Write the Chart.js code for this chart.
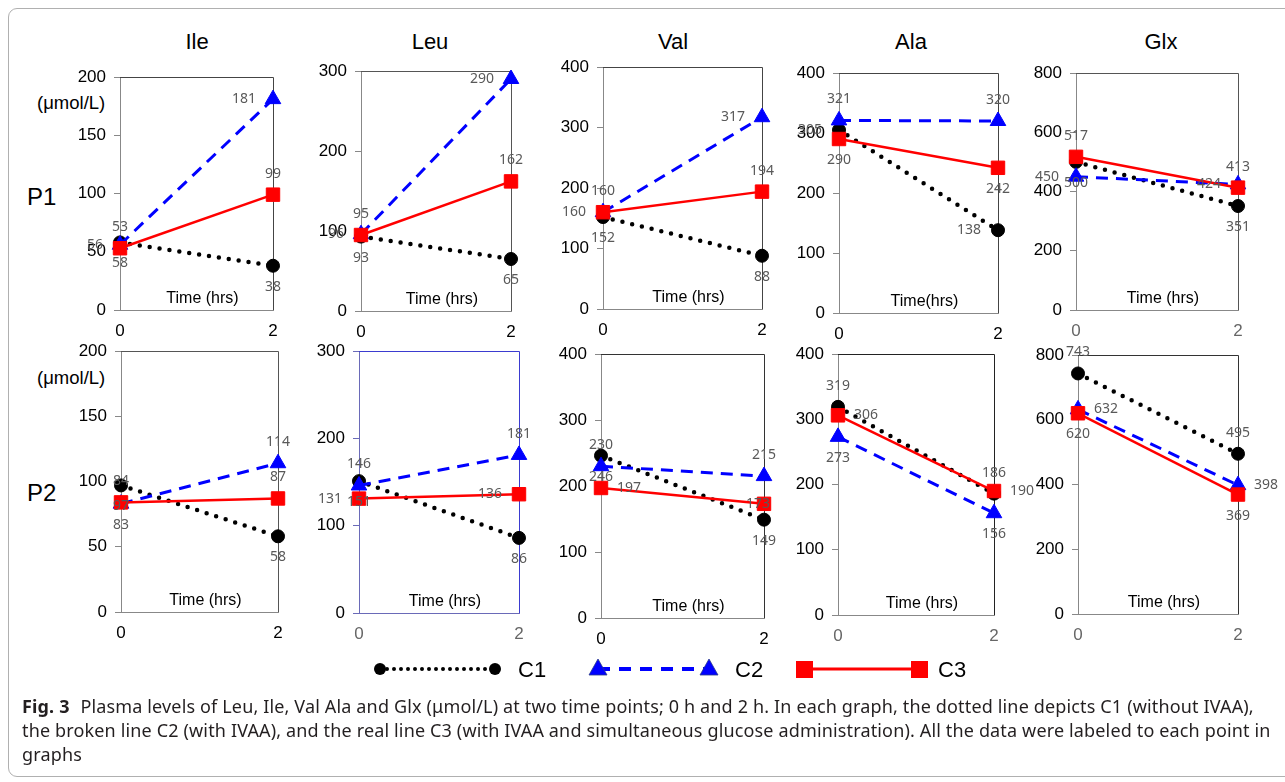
<!DOCTYPE html>
<html>
<head>
<meta charset="utf-8">
<script src="https://cdn.jsdelivr.net/npm/chart.js"></script>
<style>
  body { margin: 0; background: #fff; width: 1285px; height: 782px; overflow: hidden; position: relative; }
  .frame { position: absolute; left: 8px; top: 8px; width: 1300px; height: 767px; border: 1px solid #b0b0b0; border-radius: 9px; }
  canvas { position: absolute; }
  .txt { position: absolute; font-family: "Liberation Sans", Arial, sans-serif; color: #000; white-space: nowrap; }
  .title { font-size: 22px; transform: translate(-50%, -50%); }
  .row { font-size: 24px; transform: translateY(-50%); }
  .unit { font-size: 18.5px; transform: translateY(-50%); }
  .caption { position: absolute; left: 22px; top: 694px; font-family: "Noto Sans", sans-serif; font-size: 18px; line-height: 24px; color: #231f20; white-space: nowrap; letter-spacing: 0.15px; }
  .caption b { font-weight: 700; margin-right: 6px; }
  svg { position: absolute; left: 0; top: 0; }
</style>
</head>
<body>
<div class="frame"></div>

<script>
// amino acids (columns) and the two time points
const panelNames = ['Ile', 'Leu', 'Val', 'Ala', 'Glx'];
const timePoints = ['0', '2'];
const yMax = [200, 300, 400, 400, 800];
const yStep = [50, 100, 100, 100, 200];

// patient P1: [0 h, 2 h] for each amino acid
const c1P1 = [[58, 38], [93, 65], [152, 88], [305, 138], [500, 351]];
const c2P1 = [[56, 181], [96, 290], [160, 317], [321, 320], [450, 424]];
const c3P1 = [[53, 99], [95, 162], [160, 194], [290, 242], [517, 413]];

// patient P2
const c1P2 = [[97, 58], [151, 86], [246, 149], [319, 186], [743, 495]];
const c2P2 = [[83, 114], [146, 181], [230, 215], [273, 156], [632, 398]];
const c3P2 = [[84, 87], [131, 136], [197, 173], [306, 190], [620, 369]];

// plot boxes on the page: left, top, right, bottom
const boxesP1 = [[120, 77, 273, 310], [361, 71, 511, 311], [603, 67, 762, 309], [839, 73, 998, 313], [1076, 73, 1238, 310]];
const boxesP2 = [[121, 351, 278, 612], [359, 351, 519, 613], [601, 354, 764, 618], [838, 354, 994, 615], [1078, 355, 1238, 614]];
const titleX = [197, 430, 673, 911, 1161];

// where each value label sits: a=above b=below l=left r=right o=over
const lblP1 = [
  [['b', 'b'], ['l', 'l'], ['a', 'a']],
  [['b', 'b'], ['l', 'l'], ['a', 'a']],
  [['b', 'b'], ['l', 'l'], ['a', 'a']],
  [['l', 'l'], ['a', 'a'], ['b', 'b']],
  [['b', 'b'], ['l', 'l'], ['a', 'a']]
];
const lblP2 = [
  [['b', 'b'], ['b', 'a'], ['a', 'a']],
  [['b', 'b'], ['a', 'a'], ['l', 'l']],
  [['b', 'b'], ['a', 'a'], ['r', 'o']],
  [['a', 'a'], ['b', 'b'], ['r', 'r']],
  [['a', 'a'], ['r', 'r'], ['b', 'b']]
];

const seriesStyle = [
  { label: 'C1', color: '#000000', shape: 'circle', radius: 6.5, dash: [0, 10], width: 4.5, cap: 'round', order: 2 },
  { label: 'C2', color: '#0000ff', shape: 'triangle', radius: 9, dash: [12, 8], width: 3, cap: 'butt', order: 1 },
  { label: 'C3', color: '#ff0000', shape: 'rect', radius: 9.5, dash: [], width: 2.5, cap: 'butt', order: 0 }
];

const rows = [
  { name: 'P1', series: [c1P1, c2P1, c3P1], boxes: boxesP1, lbl: lblP1, rowY: 197, unitY: 103,
    xColor: ['#000', '#000', '#000', '#000', '#666'], boxColor: ['#444', '#555', '#444', '#444', '#555'],
    time: ['Time (hrs)', 'Time (hrs)', 'Time (hrs)', 'Time(hrs)', 'Time (hrs)'] },
  { name: 'P2', series: [c1P2, c2P2, c3P2], boxes: boxesP2, lbl: lblP2, rowY: 493, unitY: 378,
    xColor: ['#000', '#666', '#000', '#666', '#666'], boxColor: ['#555', '#3b3bd0', '#333', '#222', '#333'],
    time: ['Time (hrs)', 'Time (hrs)', 'Time (hrs)', 'Time (hrs)', 'Time (hrs)'] }
];

const yW = 60, padTop = 30, padRight = 45, xH = 34;
const labelFont = '14px "Noto Sans", "DejaVu Sans", sans-serif';

const panelDeco = {
  id: 'panelDeco',
  beforeDatasetsDraw(chart, args, opts) {
    const ctx = chart.ctx;
    const a = chart.chartArea;
    const r = Math.round(a.right) + 0.5;
    ctx.save();
    ctx.strokeStyle = opts.boxColor;
    ctx.lineWidth = 1;
    ctx.beginPath();
    ctx.moveTo(a.left, Math.round(a.top) + 0.5);
    ctx.lineTo(r, Math.round(a.top) + 0.5);
    ctx.lineTo(r, a.bottom);
    ctx.stroke();
    ctx.fillStyle = '#000';
    ctx.font = '16px "Liberation Sans", Arial, sans-serif';
    ctx.textAlign = 'center';
    ctx.textBaseline = 'middle';
    ctx.fillText(opts.time, (a.left + a.right) / 2 + 6, a.bottom - 11);
    ctx.restore();
  },
  afterDatasetsDraw(chart, args, opts) {
    const ctx = chart.ctx;
    ctx.save();
    ctx.font = labelFont;
    ctx.fillStyle = '#595959';
    ctx.textBaseline = 'middle';
    chart.data.datasets.forEach((ds, i) => {
      chart.getDatasetMeta(i).data.forEach((pt, j) => {
        const pos = opts.positions[i][j];
        let x = pt.x, y = pt.y;
        ctx.textAlign = 'center';
        if (pos === 'a') y -= 21;
        else if (pos === 'b') y += 21;
        else if (pos === 'l') { ctx.textAlign = 'right'; x -= 17; }
        else if (pos === 'r') { ctx.textAlign = 'left'; x += 16; }
        else if (pos === 'o') { x -= 6; }
        ctx.fillText(String(ds.data[j]), x, y);
      });
    });
    ctx.restore();
  }
};

function addText(cls, text, x, y) {
  const d = document.createElement('div');
  d.className = 'txt ' + cls;
  d.textContent = text;
  d.style.left = x + 'px';
  d.style.top = y + 'px';
  document.body.appendChild(d);
}

panelNames.forEach((n, k) => addText('title', n, titleX[k], 42));

rows.forEach(row => {
  addText('row', row.name, 27, row.rowY);
  addText('unit', '(\u03bcmol/L)', 37, row.unitY);

  panelNames.forEach((name, k) => {
    const [L, T, R, B] = row.boxes[k];
    const cv = document.createElement('canvas');
    cv.width = yW + (R - L) + padRight;
    cv.height = padTop + (B - T) + xH;
    cv.style.left = (L - yW) + 'px';
    cv.style.top = (T - padTop) + 'px';
    document.body.appendChild(cv);

    const axisColor = row.boxColor[k] === '#3b3bd0' ? '#6a6ab8' : '#888';

    new Chart(cv.getContext('2d'), {
      type: 'line',
      data: {
        labels: timePoints,
        datasets: seriesStyle.map((s, i) => ({
          label: s.label,
          data: row.series[i][k],
          borderColor: s.color,
          backgroundColor: s.color,
          borderWidth: s.width,
          borderDash: s.dash,
          borderCapStyle: s.cap,
          pointStyle: s.shape,
          pointRadius: s.radius,
          pointBorderWidth: 1,
          pointBorderColor: s.color,
          pointBackgroundColor: s.color,
          tension: 0,
          clip: false,
          order: s.order
        }))
      },
      options: {
        responsive: false,
        animation: false,
        devicePixelRatio: 1,
        layout: { padding: { top: padTop, right: padRight, left: 0, bottom: 0 } },
        plugins: {
          legend: { display: false },
          tooltip: { enabled: false },
          panelDeco: { positions: row.lbl[k], boxColor: row.boxColor[k], time: row.time[k] }
        },
        scales: {
          x: {
            offset: false,
            grid: { display: true, drawOnChartArea: false, drawTicks: false },
            border: { display: true, color: axisColor, width: 1 },
            ticks: { color: row.xColor[k], padding: 11, maxRotation: 0,
              font: { family: '"Liberation Sans", Arial, sans-serif', size: 17 } },
            afterFit: s => { s.height = xH; }
          },
          y: {
            min: 0,
            max: yMax[k],
            ticks: { stepSize: yStep[k], color: '#000', padding: 8,
              font: { family: '"Liberation Sans", Arial, sans-serif', size: 17 } },
            grid: { display: true, drawOnChartArea: false, drawTicks: true, tickLength: 6, color: axisColor },
            border: { display: true, color: axisColor, width: 1 },
            afterFit: s => { s.width = yW; }
          }
        }
      },
      plugins: [panelDeco]
    });
  });
});
</script>

<svg width="1285" height="782">
  <line x1="380" y1="669" x2="495" y2="669" stroke="#000" stroke-width="4" stroke-dasharray="0 7" stroke-linecap="round"/>
  <circle cx="380" cy="669" r="6" fill="#000"/>
  <circle cx="495" cy="669" r="6" fill="#000"/>
  <text x="518" y="677" font-family="Liberation Sans, Arial" font-size="22">C1</text>
  <line x1="598" y1="669" x2="709" y2="669" stroke="#0000ff" stroke-width="4" stroke-dasharray="12 9"/>
  <polygon points="598,659 589,675 607,675" fill="#0000ff" stroke="#2a3a8a" stroke-width="0.8"/>
  <polygon points="709,659 700,675 718,675" fill="#0000ff" stroke="#2a3a8a" stroke-width="0.8"/>
  <text x="735" y="677" font-family="Liberation Sans, Arial" font-size="22">C2</text>
  <line x1="805" y1="669" x2="919" y2="669" stroke="#ff0000" stroke-width="3"/>
  <rect x="796" y="661" width="17" height="17" fill="#ff0000"/>
  <rect x="911" y="661" width="17" height="17" fill="#ff0000"/>
  <text x="938" y="677" font-family="Liberation Sans, Arial" font-size="22">C3</text>
</svg>

<div class="caption"><b>Fig. 3</b> Plasma levels of Leu, Ile, Val Ala and Glx (μmol/L) at two time points; 0 h and 2 h. In each graph, the dotted line depicts C1 (without IVAA),<br>the broken line C2 (with IVAA), and the real line C3 (with IVAA and simultaneous glucose administration). All the data were labeled to each point in<br>graphs</div>
</body>
</html>
